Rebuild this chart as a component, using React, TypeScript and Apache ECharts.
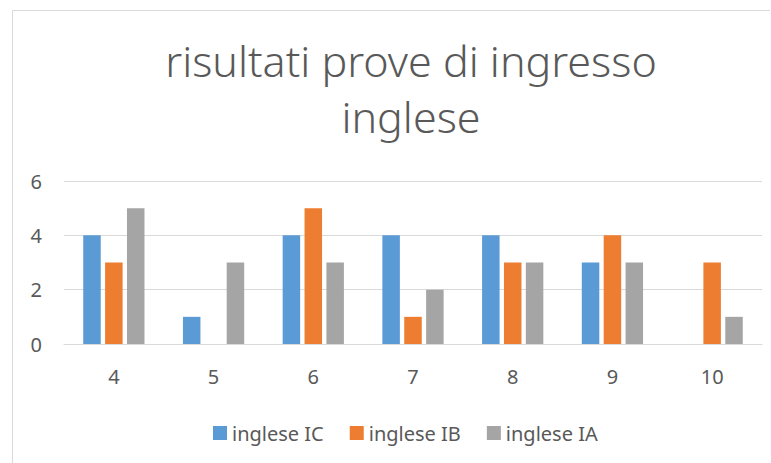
import React, { useEffect, useRef } from "react";
import * as echarts from "echarts";

const categories = ["4", "5", "6", "7", "8", "9", "10"];
const seriesNames = ["inglese IC", "inglese IB", "inglese IA"];
const ingleseIC = [4, 1, 4, 4, 4, 3, null];
const ingleseIB = [3, null, 5, 1, 3, 4, 3];
const ingleseIA = [5, 3, 3, 2, 3, 3, 1];
const colors = ["#5B9BD5", "#ED7D31", "#A5A5A5"];
const titleText = "risultati prove di ingresso\ninglese";

export default function App() {
  const ref = useRef<HTMLDivElement>(null);
  useEffect(() => {
    if (!ref.current) return;
    const chart = echarts.init(ref.current, undefined, { renderer: "svg" });
    const font = "'Noto Sans', sans-serif";
    const values = [ingleseIC, ingleseIB, ingleseIA];
    chart.setOption({
      animation: false,
      textStyle: { fontFamily: font },
      title: {
        text: titleText,
        left: 406,
        textAlign: "center",
        top: 27,
        textStyle: {
          fontFamily: font,
          fontSize: 43,
          fontWeight: 300,
          color: "#595959",
          lineHeight: 56,
        },
      },
      graphic: [
        { type: "line", shape: { x1: 12.5, y1: 10.5, x2: 770, y2: 10.5 }, style: { stroke: "#d9d9d9", lineWidth: 1 } },
        { type: "line", shape: { x1: 12.5, y1: 10.5, x2: 12.5, y2: 463 }, style: { stroke: "#d9d9d9", lineWidth: 1 } },
      ],
      legend: {
        data: seriesNames,
        top: 418,
        left: 208,
        itemWidth: 14,
        itemHeight: 14,
        itemGap: 26,
        icon: "rect",
        textStyle: { fontFamily: font, fontSize: 20, color: "#595959" },
      },
      grid: { left: 64, right: 9, top: 181, bottom: 119 },
      xAxis: {
        type: "category",
        data: categories,
        axisLine: { show: true, lineStyle: { color: "#d9d9d9", width: 1 } },
        axisTick: { show: false },
        axisLabel: { fontFamily: font, fontSize: 20, color: "#595959", margin: 22 },
      },
      yAxis: {
        type: "value",
        min: 0,
        max: 6,
        interval: 2,
        axisLine: { show: false },
        axisTick: { show: false },
        axisLabel: { fontFamily: font, fontSize: 20, color: "#595959", margin: 22 },
        splitLine: { lineStyle: { color: "#d9d9d9", width: 1 } },
      },
      series: seriesNames.map((name, i) => ({
        name,
        type: "bar",
        data: values[i],
        barWidth: 17.5,
        barGap: "25%",
        itemStyle: { color: colors[i] },
      })),
    });
    return () => chart.dispose();
  }, []);
  return <div ref={ref} style={{ width: 771, height: 463, position: "absolute", left: 0, top: 0 }} />;
}
